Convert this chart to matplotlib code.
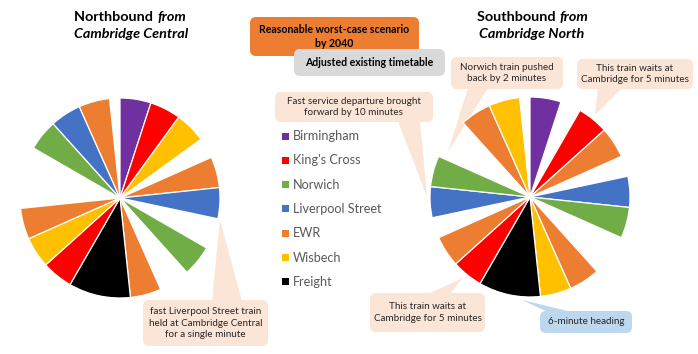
import matplotlib
matplotlib.use("Agg")
import matplotlib.pyplot as plt
from matplotlib.patches import FancyBboxPatch, Polygon, Rectangle

plt.rcParams["font.family"] = ["Lato", "DejaVu Sans"]

# ── Data ────────────────────────────────────────────────────────────────────
categories = ["Birmingham", "King's Cross", "Norwich", "Liverpool Street",
              "EWR", "Wisbech", "Freight"]
cat_colors = ["#7030A0", "#FF0000", "#70AD47", "#4472C4",
              "#ED7D31", "#FFC000", "#000000"]

# clock-face slots for one hour, clockwise from :00 (None = free path)
north_services = ["Birmingham", "King's Cross", "Wisbech", None, "EWR",
                  "Liverpool Street", None, "Norwich", None, "EWR", "Freight",
                  "King's Cross", "Wisbech", "EWR", None, "Norwich",
                  "Liverpool Street", "EWR", None]
north_minutes = [3, 3, 3, 2, 3, 3, 3, 3, 3, 3, 6, 3, 3, 3, 6, 3, 3, 3, 1]

south_services = ["Birmingham", None, "King's Cross", "EWR", None,
                  "Liverpool Street", "Norwich", None, "EWR", "Wisbech",
                  "Freight", "King's Cross", "EWR", None, "Liverpool Street",
                  "Norwich", None, "EWR", "Wisbech", None]
south_minutes = [3, 2, 3, 3, 2, 3, 3, 4, 3, 3, 6, 3, 3, 2, 3, 3, 4, 3, 3, 1]

color_of = dict(zip(categories, cat_colors))

W, H = 698, 354
fig = plt.figure(figsize=(W / 100, H / 100), dpi=100)
fig.patch.set_facecolor("white")

# main overlay axes in pixel coordinates (y down)
ax = fig.add_axes([0, 0, 1, 1])
ax.set_xlim(0, W)
ax.set_ylim(H, 0)
ax.axis("off")


def clock_pie(cx, cy, r, services, minutes):
    pax = fig.add_axes([(cx - r) / W, (H - cy - r) / H, 2 * r / W, 2 * r / H])
    cols = [color_of[s] if s else "none" for s in services]
    wedges, _ = pax.pie(minutes, colors=cols, startangle=90, counterclock=False,
                        radius=1, wedgeprops=dict(edgecolor="white", linewidth=0.9))
    for w, s in zip(wedges, services):
        if s is None:
            w.set_edgecolor("none")
    pax.set_xlim(-1, 1)
    pax.set_ylim(-1, 1)
    pax.set_aspect("equal")
    pax.axis("off")


clock_pie(120, 198, 100, north_services, north_minutes)
clock_pie(530, 197, 100, south_services, south_minutes)

# ── Titles ──────────────────────────────────────────────────────────────────
def title(xc, split, word, rest):
    ax.text(split, 17, word + " ", ha="right", va="center", fontsize=10.4,
            fontweight="bold", color="black")
    ax.text(split, 17, "from", ha="left", va="center", fontsize=10.4,
            fontweight="bold", style="italic", color="black")
    ax.text(xc, 34, rest, ha="center", va="center", fontsize=10.4,
            fontweight="bold", style="italic", color="black")


title(131, 157, "Northbound", "Cambridge Central")
title(532, 559, "Southbound", "Cambridge North")

# ── Boxes and callouts ──────────────────────────────────────────────────────
PEACH = "#FBE5D6"


def box(x0, y0, x1, y1, fc, text, bold=False, size=7.1, tri=None, z=2):
    ax.add_patch(FancyBboxPatch((x0, y0), x1 - x0, y1 - y0,
                                boxstyle="round,pad=0,rounding_size=6",
                                fc=fc, ec="none", zorder=z))
    if tri is not None:
        ax.add_patch(Polygon(tri, closed=True, fc=fc, ec="none", zorder=z))
    ax.text((x0 + x1) / 2, (y0 + y1) / 2, text, ha="center", va="center",
            fontsize=size, color="#262626" if not bold else "black",
            fontweight="bold" if bold else "normal", linespacing=1.3,
            zorder=z + 0.5)


box(250, 17, 419, 56, "#ED7D31", "Reasonable worst-case scenario\nby 2040",
    bold=True, size=7.6, z=2)
box(294, 49, 445, 76, "#D9D9D9", "Adjusted existing timetable",
    bold=True, size=7.6, z=4)

box(275, 92, 433, 122, PEACH,
    "Fast service departure brought\nforward by 10 minutes",
    tri=[(398, 121), (420, 121), (427, 197)])
box(451, 57, 563, 89, PEACH, "Norwich train pushed\nback by 2 minutes",
    tri=[(468, 88), (488, 88), (448, 152)])
box(577, 59, 693, 89, PEACH, "This train waits at\nCambridge for 5 minutes",
    tri=[(598, 88), (622, 88), (595, 115)])
box(143, 300, 268, 346, PEACH,
    "fast Liverpool Street train\nheld at Cambridge Central\nfor a single minute",
    tri=[(212, 301), (242, 301), (220, 220)])
box(370, 293, 485, 332, PEACH, "This train waits at\nCambridge for 5 minutes",
    tri=[(428, 294), (450, 294), (463, 278)])
box(540, 311, 632, 333, "#BDD7EE", "6-minute heading",
    tri=[(548, 312), (572, 312), (522, 300)])

# ── Legend ──────────────────────────────────────────────────────────────────
for i, (name, col) in enumerate(zip(categories, cat_colors)):
    y = 136 + i * 24.3
    ax.add_patch(Rectangle((282, y - 3.5), 7, 7, fc=col, ec="none"))
    ax.text(293, y, name, ha="left", va="center", fontsize=9.1,
            color="#595959")

fig.savefig("out.png", dpi=100, facecolor="white")
